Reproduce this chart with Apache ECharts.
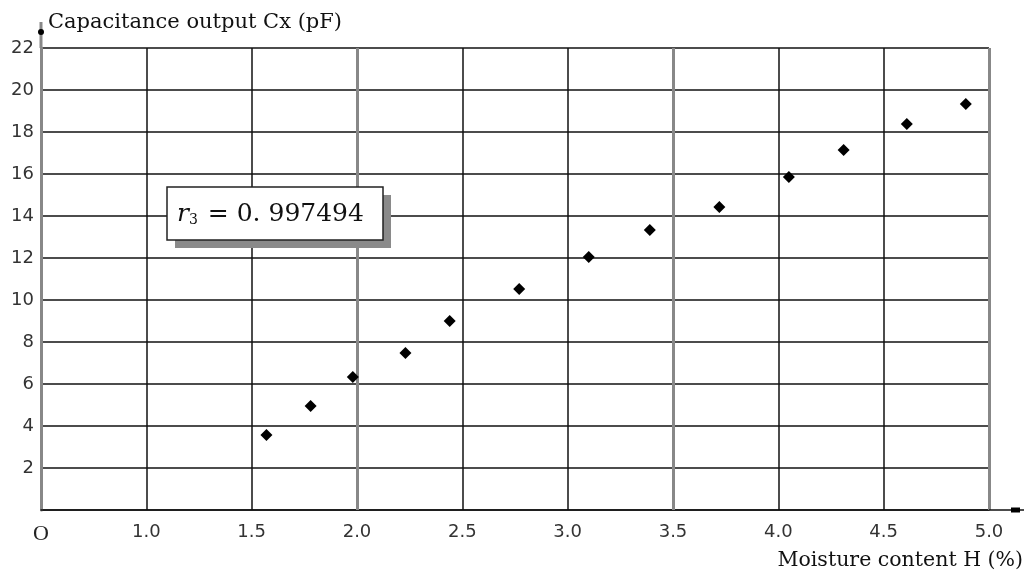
<!DOCTYPE html>
<html>
<head>
<meta charset="utf-8">
<script src="https://cdn.jsdelivr.net/npm/echarts@6/dist/echarts.min.js"></script>
<style>
  html, body { margin: 0; padding: 0; background: #fff; }
  #main { width: 1034px; height: 579px; }
</style>
</head>
<body>
<div id="main"></div>
<script>
// 含水量 H (%)
const moisture = [1.57, 1.78, 1.98, 2.23, 2.44, 2.77, 3.10, 3.39, 3.72, 4.05, 4.31, 4.61, 4.89]
// 电容输出 Cx (pF)
const capacitance = [3.57, 4.95, 6.33, 7.48, 9.0, 10.52, 12.05, 13.33, 14.43, 15.86, 17.14, 18.38, 19.33]
// 粗灰竖线
const thickLines = [2.0, 3.5, 5.0]
const correlation = '0. 997494'

let chart = echarts.init(document.getElementById('main'))

const labelFont = 'DejaVu Sans'
const serif = 'DejaVu Serif'

chart.setOption({
  animation: false,
  backgroundColor: '#fff',
  grid: { left: 41, top: 48, right: 45, bottom: 69 },
  xAxis: {
    type: 'value',
    min: 0.5,
    max: 5.0,
    interval: 0.5,
    name: 'Moisture content H (%)',
    nameLocation: 'end',
    nameGap: 34,
    nameTextStyle: {
      fontFamily: serif, fontSize: 20.5, color: '#111',
      align: 'right', verticalAlign: 'top', padding: [40, 0, 0, 0]
    },
    axisLine: { lineStyle: { color: '#111', width: 1.5 } },
    axisTick: { show: false },
    axisLabel: {
      margin: 13,
      fontFamily: labelFont, fontSize: 18, color: '#333',
      formatter: v => v === 0.5 ? '{o|O}' : v.toFixed(1),
      rich: { o: { fontFamily: 'Liberation Serif', fontSize: 22, color: '#222' } }
    },
    splitLine: { lineStyle: { color: '#111', width: 1.5 } }
  },
  yAxis: {
    type: 'value',
    min: 0,
    max: 22,
    interval: 2,
    name: 'Capacitance output Cx (pF)',
    nameLocation: 'end',
    nameGap: 15,
    nameTextStyle: {
      fontFamily: serif, fontSize: 21, color: '#111',
      align: 'left', verticalAlign: 'bottom', padding: [0, 0, 0, 7]
    },
    axisLine: { show: true, lineStyle: { color: '#888', width: 3 } },
    axisTick: { show: false },
    axisLabel: {
      margin: 7,
      fontFamily: labelFont, fontSize: 18, color: '#333',
      formatter: v => v === 0 ? '' : String(v)
    },
    splitLine: { lineStyle: { color: '#111', width: 1.5 } }
  },
  series: [{
    type: 'scatter',
    symbol: 'diamond',
    symbolSize: 12,
    itemStyle: { color: '#000', opacity: 1 },
    data: moisture.map((x, i) => [x, capacitance[i]]),
    z: 5,
    markLine: {
      silent: true,
      symbol: 'none',
      label: { show: false },
      lineStyle: { color: '#888', width: 3, type: 'solid' },
      data: thickLines.map(v => ({ xAxis: v }))
    }
  }]
})

// 坐标轴延长线和相关系数框
const origin = chart.convertToPixel({ gridIndex: 0 }, [0.5, 0])
const yTop = chart.convertToPixel({ gridIndex: 0 }, [0.5, 22])
const xEnd = chart.convertToPixel({ gridIndex: 0 }, [5.0, 0])

chart.setOption({
  graphic: [
    {
      type: 'line', z: 10,
      shape: { x1: yTop[0], y1: yTop[1], x2: yTop[0], y2: yTop[1] - 26 },
      style: { stroke: '#888', lineWidth: 3 }
    },
    {
      type: 'circle', z: 11,
      shape: { cx: yTop[0], cy: yTop[1] - 16, r: 3 },
      style: { fill: '#000' }
    },
    {
      type: 'line', z: 10,
      shape: { x1: xEnd[0], y1: xEnd[1], x2: xEnd[0] + 35, y2: xEnd[1] },
      style: { stroke: '#111', lineWidth: 1.5 }
    },
    {
      type: 'rect', z: 11,
      shape: { x: xEnd[0] + 22, y: origin[1] - 2.5, width: 9, height: 5 },
      style: { fill: '#000' }
    },
    {
      type: 'rect', z: 20,
      shape: { x: 175, y: 195, width: 216, height: 53 },
      style: { fill: '#8a8a8a' }
    },
    {
      type: 'rect', z: 21,
      shape: { x: 167, y: 187, width: 216, height: 53 },
      style: { fill: '#fff', stroke: '#222', lineWidth: 1.5 }
    },
    {
      type: 'text', z: 22,
      x: 177, y: 214,
      style: {
        text: '{r|r}{s|3}{t| = ' + correlation + '}',
        verticalAlign: 'middle',
        rich: {
          r: { fontFamily: serif, fontStyle: 'italic', fontSize: 25, fill: '#111' },
          s: { fontFamily: serif, fontSize: 14, fill: '#111', padding: [12, 2, 0, 0] },
          t: { fontFamily: serif, fontSize: 25, fill: '#111' }
        }
      }
    }
  ]
})
</script>
</body>
</html>
